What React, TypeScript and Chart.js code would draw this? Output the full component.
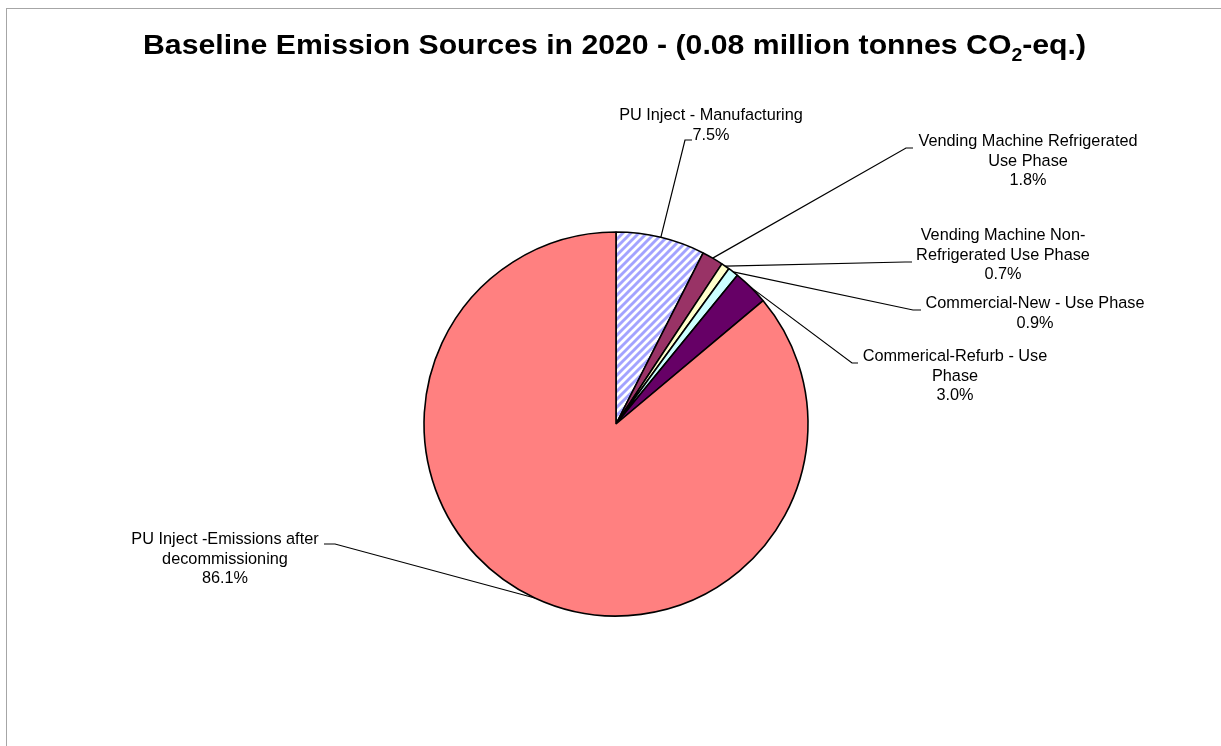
import React, { useEffect, useRef } from "react";
import { Chart, registerables } from "chart.js";

Chart.register(...registerables);

const categories = [
  "PU Inject - Manufacturing",
  "Vending Machine Refrigerated Use Phase",
  "Vending Machine Non-Refrigerated Use Phase",
  "Commercial-New - Use Phase",
  "Commerical-Refurb - Use Phase",
  "PU Inject -Emissions after decommissioning",
];
const shares = [7.5, 1.8, 0.7, 0.9, 3.0, 86.1];
const labelLines = [
  ["PU Inject - Manufacturing"],
  ["Vending Machine Refrigerated", "Use Phase"],
  ["Vending Machine Non-", "Refrigerated Use Phase"],
  ["Commercial-New - Use Phase"],
  ["Commerical-Refurb - Use", "Phase"],
  ["PU Inject -Emissions after", "decommissioning"],
];
const titleMain = "Baseline Emission Sources in 2020 - (0.08 million tonnes CO";
const titleSub = "2";
const titleTail = "-eq.)";

// layout (positions only)
const labelLayout = [
  { cx: 711, y: 116, elbow: [685, 140], end: [692, 140] },
  { cx: 1028, y: 142, elbow: [906, 148], end: [913, 148] },
  { cx: 1003, y: 236, elbow: [905, 262], end: [912, 262] },
  { cx: 1035, y: 304, elbow: [913, 310], end: [921, 310] },
  { cx: 955, y: 357, elbow: [852, 363], end: [858, 363] },
  { cx: 225, y: 540, elbow: [335, 544], end: [324, 544] },
];
const LINE_H = 19.5;
const FONT = "Arial, 'Liberation Sans', sans-serif";

function makeHatch(): CanvasPattern | string {
  const s = 8;
  const c = document.createElement("canvas");
  c.width = s;
  c.height = s;
  const g = c.getContext("2d");
  if (!g) return "#A6A6FF";
  g.fillStyle = "#ffffff";
  g.fillRect(0, 0, s, s);
  g.strokeStyle = "#A3A3FF";
  g.lineWidth = 2.9;
  g.beginPath();
  g.moveTo(-2, s + 2);
  g.lineTo(s + 2, -2);
  g.moveTo(-3, 3);
  g.lineTo(3, -3);
  g.moveTo(s - 3, s + 3);
  g.lineTo(s + 3, s - 3);
  g.stroke();
  const p = g.createPattern(c, "repeat");
  return p || "#A6A6FF";
}

const decorPlugin = {
  id: "decor",
  beforeDraw(chart: any) {
    const ctx = chart.ctx;
    ctx.save();
    ctx.fillStyle = "#ffffff";
    ctx.fillRect(0, 0, chart.width, chart.height);
    ctx.strokeStyle = "#a6a6a6";
    ctx.lineWidth = 1;
    ctx.strokeRect(6.5, 8.5, 1400, 900);
    // title
    ctx.fillStyle = "#000";
    ctx.textBaseline = "alphabetic";
    const big = `bold 28px ${FONT}`;
    const small = `bold 18px ${FONT}`;
    ctx.font = big;
    const w1 = ctx.measureText(titleMain).width;
    const w3 = ctx.measureText(titleTail).width;
    ctx.font = small;
    const w2 = ctx.measureText(titleSub).width;
    const total = w1 + w2 + w3;
    const target = 943;
    const sx = target / total;
    ctx.translate(614.5 - target / 2, 54);
    ctx.scale(sx, 1);
    ctx.font = big;
    ctx.fillText(titleMain, 0, 0);
    ctx.font = small;
    ctx.fillText(titleSub, w1, 7);
    ctx.font = big;
    ctx.fillText(titleTail, w1 + w2, 0);
    ctx.restore();
  },
  afterDraw(chart: any) {
    const ctx = chart.ctx;
    const meta = chart.getDatasetMeta(0);
    ctx.save();
    ctx.strokeStyle = "#000";
    ctx.lineWidth = 1.2;
    ctx.fillStyle = "#000";
    ctx.font = `16.3px ${FONT}`;
    ctx.textAlign = "center";
    ctx.textBaseline = "middle";
    meta.data.forEach((arc: any, i: number) => {
      const p = arc.getProps(["x", "y", "startAngle", "endAngle", "outerRadius"], true);
      const mid = (p.startAngle + p.endAngle) / 2;
      const ex = p.x + Math.cos(mid) * p.outerRadius;
      const ey = p.y + Math.sin(mid) * p.outerRadius;
      const L = labelLayout[i];
      ctx.beginPath();
      ctx.moveTo(ex, ey);
      ctx.lineTo(L.elbow[0], L.elbow[1]);
      ctx.lineTo(L.end[0], L.end[1]);
      ctx.stroke();
      const lines = [...labelLines[i], shares[i].toFixed(1) + "%"];
      lines.forEach((t, k) => {
        ctx.fillText(t, L.cx, L.y + k * LINE_H);
      });
    });
    ctx.restore();
  },
};

export default function App() {
  const ref = useRef<HTMLCanvasElement | null>(null);
  useEffect(() => {
    document.body.style.margin = "0";
    const canvas = ref.current;
    if (!canvas) return;
    const hatch = makeHatch();
    const chart = new Chart(canvas, {
      type: "pie",
      data: {
        labels: categories,
        datasets: [
          {
            data: shares,
            backgroundColor: [hatch, "#993366", "#FFFFCC", "#CCFFFF", "#660066", "#FF8080"],
            borderColor: "#000000",
            borderWidth: 1.6,
          },
        ],
      },
      options: {
        animation: false,
        responsive: false,
        devicePixelRatio: 1,
        radius: 192,
        layout: { padding: { left: 424, right: 413, top: 232, bottom: 130 } },
        plugins: {
          legend: { display: false },
          tooltip: { enabled: false },
          title: { display: false },
        },
      } as any,
      plugins: [decorPlugin],
    });
    return () => chart.destroy();
  }, []);
  return (
    <div style={{ position: "fixed", left: 0, top: 0, width: 1221, height: 746 }}>
      <canvas ref={ref} width={1221} height={746} style={{ width: 1221, height: 746, display: "block" }} />
    </div>
  );
}
